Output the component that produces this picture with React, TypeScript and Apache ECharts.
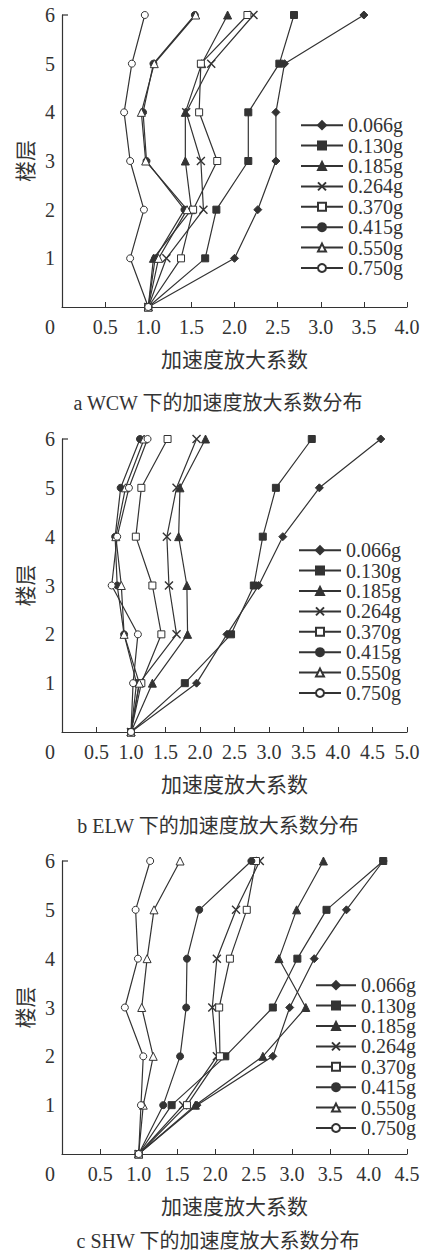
import React, { useEffect, useRef } from 'react';
import * as echarts from 'echarts';

// ---------- data ----------
const floors = [0, 1, 2, 3, 4, 5, 6];
const seriesNames = ['0.066g', '0.130g', '0.185g', '0.264g', '0.370g', '0.415g', '0.550g', '0.750g'];

// a  WCW
const wcw066 = [1.0, 2.0, 2.27, 2.48, 2.48, 2.58, 3.5];
const wcw130 = [1.0, 1.66, 1.79, 2.16, 2.16, 2.52, 2.69];
const wcw185 = [1.0, 1.06, 1.5, 1.43, 1.43, 1.62, 1.92];
const wcw264 = [1.0, 1.21, 1.64, 1.61, 1.44, 1.73, 2.22];
const wcw370 = [1.0, 1.38, 1.52, 1.8, 1.59, 1.61, 2.15];
const wcw415 = [1.0, 1.08, 1.42, 0.98, 0.94, 1.06, 1.54];
const wcw550 = [1.0, 1.12, 1.45, 0.97, 0.92, 1.07, 1.55];
const wcw750 = [1.0, 0.79, 0.95, 0.79, 0.72, 0.81, 0.96];

// b  ELW
const elw066 = [1.0, 1.95, 2.39, 2.85, 3.2, 3.73, 4.62];
const elw130 = [1.0, 1.78, 2.45, 2.78, 2.91, 3.1, 3.62];
const elw185 = [1.0, 1.31, 1.82, 1.81, 1.69, 1.71, 2.08];
const elw264 = [1.0, 1.12, 1.66, 1.55, 1.52, 1.66, 1.95];
const elw370 = [1.0, 1.15, 1.44, 1.31, 1.07, 1.15, 1.53];
const elw415 = [1.0, 1.08, 0.9, 0.8, 0.77, 0.85, 1.13];
const elw550 = [1.0, 1.12, 0.9, 0.86, 0.78, 0.92, 1.19];
const elw750 = [1.0, 1.03, 1.1, 0.72, 0.8, 0.97, 1.24];

// c  SHW
const shw066 = [1.0, 1.76, 2.75, 2.97, 3.29, 3.71, 4.19];
const shw130 = [1.0, 1.43, 2.13, 2.75, 3.07, 3.45, 4.19];
const shw185 = [1.0, 1.74, 2.62, 3.18, 2.83, 3.06, 3.41];
const shw264 = [1.0, 1.58, 2.02, 1.96, 2.02, 2.27, 2.58];
const shw370 = [1.0, 1.63, 2.06, 2.05, 2.19, 2.41, 2.53];
const shw415 = [1.0, 1.32, 1.54, 1.62, 1.63, 1.79, 2.47];
const shw550 = [1.0, 1.06, 1.19, 1.04, 1.11, 1.2, 1.54];
const shw750 = [1.0, 1.03, 1.06, 0.82, 0.99, 0.96, 1.15];

const xMaxA = 4.0;
const xMaxB = 5.0;
const xMaxC = 4.5;
const xInterval = 0.5;
const captions = ['a WCW 下的加速度放大系数分布', 'b ELW 下的加速度放大系数分布', 'c SHW 下的加速度放大系数分布'];
const xAxisTitle = '加速度放大系数';
const yAxisTitle = '楼层';

// ---------- styles ----------
const INK = '#333';
const SERIF = '"Liberation Serif", "Noto Sans CJK SC", serif';
const CJK = '"Noto Sans CJK SC", sans-serif';
const X_PATH = 'path://M0,0L10,10M10,0L0,10';
const symbols = ['diamond', 'rect', 'triangle', X_PATH, 'rect', 'circle', 'triangle', 'circle'];
const symbolSizes = [8, 7, 8, 8, 7, 7, 8, 7];
const filled = [true, true, true, true, false, true, false, false];

const grids = [
  { left: 62, top: 15, width: 345, height: 292 },
  { left: 62, top: 439, width: 345, height: 293 },
  { left: 62, top: 861, width: 345, height: 293 },
];

function buildSeries(panel: number, values: number[][]) {
  return values.map((vals, k) => ({
    name: seriesNames[k],
    type: 'line',
    xAxisIndex: panel,
    yAxisIndex: panel,
    data: vals.map((v, i) => [v, floors[i]]),
    symbol: symbols[k],
    symbolSize: symbolSizes[k],
    showAllSymbol: true,
    itemStyle: {
      color: filled[k] ? INK : '#fff',
      borderColor: INK,
      borderWidth: symbols[k] === X_PATH ? 1.4 : 1,
    },
    lineStyle: { color: INK, width: 1.2 },
    emphasis: { disabled: true },
    silent: true,
    z: 2 + k,
  }));
}

function xAxisFor(panel: number, max: number) {
  return {
    type: 'value',
    gridIndex: panel,
    min: 0,
    max,
    interval: xInterval,
    name: xAxisTitle,
    nameLocation: 'middle',
    nameGap: 40,
    nameTextStyle: { fontFamily: CJK, fontSize: 21, color: INK },
    axisLine: { show: true, lineStyle: { color: INK, width: 1.2 } },
    axisTick: { show: true, inside: true, length: 5, lineStyle: { color: INK, width: 1 } },
    splitLine: { show: false },
    axisLabel: {
      margin: 10,
      fontFamily: SERIF,
      fontSize: 20,
      color: INK,
      formatter: (v: number) => (v === 0 ? '{z|0}' : v.toFixed(1)),
      rich: { z: { fontFamily: SERIF, fontSize: 20, color: INK, padding: [0, 24, 0, 0] } },
    },
  };
}

function yAxisFor(panel: number, gap: number) {
  return {
    type: 'value',
    gridIndex: panel,
    min: 0,
    max: 6,
    interval: 1,
    name: yAxisTitle,
    nameLocation: 'middle',
    nameRotate: 90,
    nameGap: gap,
    nameTextStyle: { fontFamily: CJK, fontSize: 21, color: INK },
    axisLine: { show: true, lineStyle: { color: INK, width: 1.2 } },
    axisTick: { show: false },
    splitLine: { show: false },
    axisLabel: {
      margin: 7,
      fontFamily: SERIF,
      fontSize: 20,
      color: INK,
      formatter: (v: number) => (v === 0 ? '' : String(v)),
    },
  };
}

function legendFor(left: number, top: number, itemWidth: number) {
  return {
    orient: 'vertical',
    left,
    top,
    itemWidth,
    itemHeight: 10,
    itemGap: 0,
    padding: 0,
    selectedMode: false,
    data: seriesNames,
    textStyle: { fontFamily: SERIF, fontSize: 20, color: INK, lineHeight: 20.4 },
  };
}

export default function App() {
  const ref = useRef<HTMLDivElement>(null);
  useEffect(() => {
    document.body.style.margin = '0';
    if (!ref.current) return;
    const chart = echarts.init(ref.current, undefined, { renderer: 'svg' });
    const option = {
      animation: false,
      backgroundColor: '#fff',
      grid: grids,
      xAxis: [xAxisFor(0, xMaxA), xAxisFor(1, xMaxB), xAxisFor(2, xMaxC)],
      yAxis: [yAxisFor(0, 24), yAxisFor(1, 12), yAxisFor(2, 24)],
      legend: [legendFor(300, 115, 42), legendFor(298, 540, 42), legendFor(315, 975, 40)],
      series: [
        ...buildSeries(0, [wcw066, wcw130, wcw185, wcw264, wcw370, wcw415, wcw550, wcw750]),
        ...buildSeries(1, [elw066, elw130, elw185, elw264, elw370, elw415, elw550, elw750]),
        ...buildSeries(2, [shw066, shw130, shw185, shw264, shw370, shw415, shw550, shw750]),
      ],
      graphic: [
        ...[403, 826, 1241].map((y, i) => ({
          type: 'text',
          x: 218,
          y,
          style: {
            text: captions[i],
            fontFamily: SERIF,
            fontSize: 20,
            fill: INK,
            align: 'center',
            verticalAlign: 'middle',
          },
        })),
        ...grids.map((g) => ({
          type: 'line',
          shape: { x1: g.left, y1: g.top, x2: g.left + 6, y2: g.top },
          style: { stroke: INK, lineWidth: 1.2 },
        })),
      ],
    };
    chart.setOption(option as any);
    return () => chart.dispose();
  }, []);
  return <div ref={ref} style={{ width: 424, height: 1254 }} />;
}
